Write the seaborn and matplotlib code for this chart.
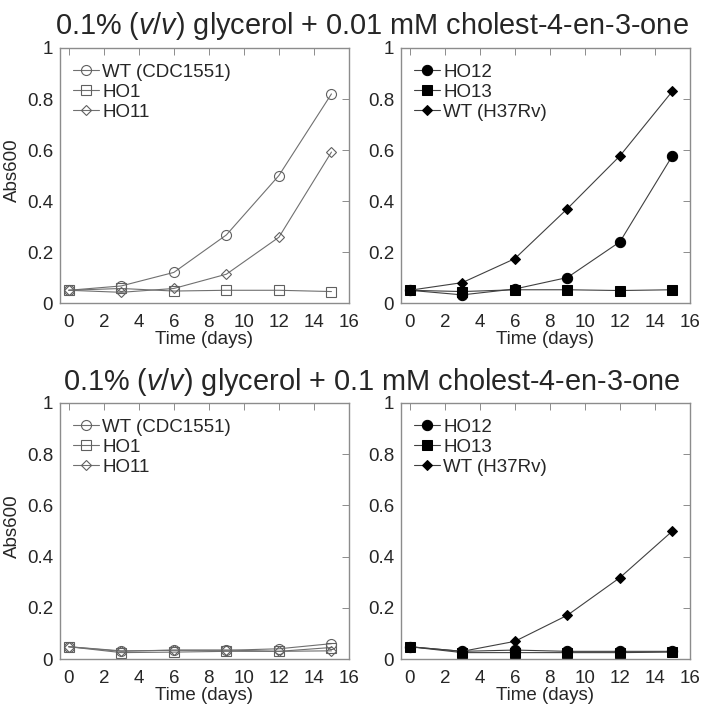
import pandas as pd
import matplotlib
matplotlib.use('Agg')
import matplotlib.pyplot as plt
from matplotlib import font_manager
import seaborn as sns

###########################
# data (Abs600 vs time)
days = [0, 3, 6, 9, 12, 15]

# 0.01 mM cholest-4-en-3-one
wt_cdc_01 = [0.050, 0.067, 0.120, 0.267, 0.500, 0.820]
ho1_01 = [0.050, 0.057, 0.047, 0.050, 0.050, 0.045]
ho11_01 = [0.050, 0.042, 0.057, 0.113, 0.258, 0.592]
ho12_01 = [0.050, 0.032, 0.055, 0.100, 0.240, 0.578]
ho13_01 = [0.050, 0.045, 0.052, 0.052, 0.049, 0.052]
wt_h37_01 = [0.050, 0.080, 0.174, 0.370, 0.577, 0.831]

# 0.1 mM cholest-4-en-3-one
wt_cdc_1 = [0.048, 0.032, 0.034, 0.034, 0.040, 0.060]
ho1_1 = [0.048, 0.025, 0.027, 0.030, 0.030, 0.045]
ho11_1 = [0.048, 0.030, 0.035, 0.035, 0.030, 0.032]
ho12_1 = [0.048, 0.030, 0.035, 0.030, 0.030, 0.030]
ho13_1 = [0.048, 0.025, 0.025, 0.025, 0.025, 0.027]
wt_h37_1 = [0.048, 0.030, 0.069, 0.171, 0.318, 0.500]

titles = [r'0.1% ($\mathit{v/v}$) glycerol + 0.01 mM cholest-4-en-3-one',
          r'0.1% ($\mathit{v/v}$) glycerol + 0.1 mM cholest-4-en-3-one']

sns.set_style("white")
plt.rcParams['font.family'] = ['Liberation Sans', 'DejaVu Sans']

# titles in the reference use a condensed face
names = {f.name for f in font_manager.fontManager.ttflist}
if 'Liberation Sans Narrow' in names:
    tfam, tsize = 'Liberation Sans Narrow', 25
else:
    tfam, tsize = 'Liberation Sans', 20.8
plt.rcParams['mathtext.fontset'] = 'custom'
plt.rcParams['mathtext.rm'] = tfam
plt.rcParams['mathtext.it'] = tfam + ':italic'

gray = '#707070'
spine = '#8c8c8c'
fs = 13.5

fig = plt.figure(figsize=(7.04, 7.10), dpi=100)
ax_tl = fig.add_axes([0.0852, 0.5732, 0.4105, 0.3592])
ax_tr = fig.add_axes([0.5696, 0.5732, 0.4105, 0.3592])
ax_bl = fig.add_axes([0.0852, 0.0718, 0.4105, 0.3606])
ax_br = fig.add_axes([0.5696, 0.0718, 0.4105, 0.3606])

open_series = [('WT (CDC1551)', 'o', 7.2), ('HO1', 's', 7), ('HO11', 'D', 5.5)]
filled_series = [('HO12', 'o', 7.4), ('HO13', 's', 6.8), ('WT (H37Rv)', 'D', 4.8)]

panels = [
    (ax_tl, [wt_cdc_01, ho1_01, ho11_01], open_series, False),
    (ax_tr, [ho12_01, ho13_01, wt_h37_01], filled_series, True),
    (ax_bl, [wt_cdc_1, ho1_1, ho11_1], open_series, False),
    (ax_br, [ho12_1, ho13_1, wt_h37_1], filled_series, True),
]

for ax, values, series, filled in panels:
    for vals, (name, mk, ms) in zip(values, series):
        df = pd.DataFrame({'day': days, 'abs': vals})
        if filled:
            sns.lineplot(data=df, x='day', y='abs', ax=ax, color='#404040', lw=0.8,
                         marker=mk, markersize=ms, markerfacecolor='black',
                         markeredgecolor='black', label=name)
        else:
            sns.lineplot(data=df, x='day', y='abs', ax=ax, color=gray, lw=0.8,
                         marker=mk, markersize=ms, markerfacecolor='none',
                         markeredgecolor='#606060', markeredgewidth=0.8, label=name)
    ax.set_xlim(-0.5, 16)
    ax.set_ylim(0, 1)
    ax.set_xticks(range(0, 17, 2))
    ax.set_yticks([0, 0.2, 0.4, 0.6, 0.8, 1])
    ax.set_yticklabels(['0', '0.2', '0.4', '0.6', '0.8', '1'])
    ax.tick_params(direction='in', length=5, width=0.7, color=spine,
                   top=True, right=True, labelsize=fs)
    ax.tick_params(axis='x', pad=8)
    ax.tick_params(axis='y', pad=5)
    for s in ax.spines.values():
        s.set_color(spine)
        s.set_linewidth(1.0)
    ax.set_xlabel('Time (days)', fontsize=fs)
    ax.xaxis.set_label_coords(0.5, -0.108)
    ax.set_ylabel('')
    ax.legend(loc='upper left', frameon=False, fontsize=fs, handlelength=1.4,
              handletextpad=0.15, labelspacing=0.15, borderaxespad=0, borderpad=0,
              bbox_to_anchor=(0.045, 0.938))

for ax in (ax_tl, ax_bl):
    ax.set_ylabel('Abs600', fontsize=fs)
    ax.yaxis.set_label_coords(-0.135, 0.52)

fig.text(0.528, 0.9521, titles[0], ha='center', va='baseline', fontsize=tsize, family=tfam)
fig.text(0.528, 0.4507, titles[1], ha='center', va='baseline', fontsize=tsize, family=tfam)

fig.savefig('out.png', dpi=100)
